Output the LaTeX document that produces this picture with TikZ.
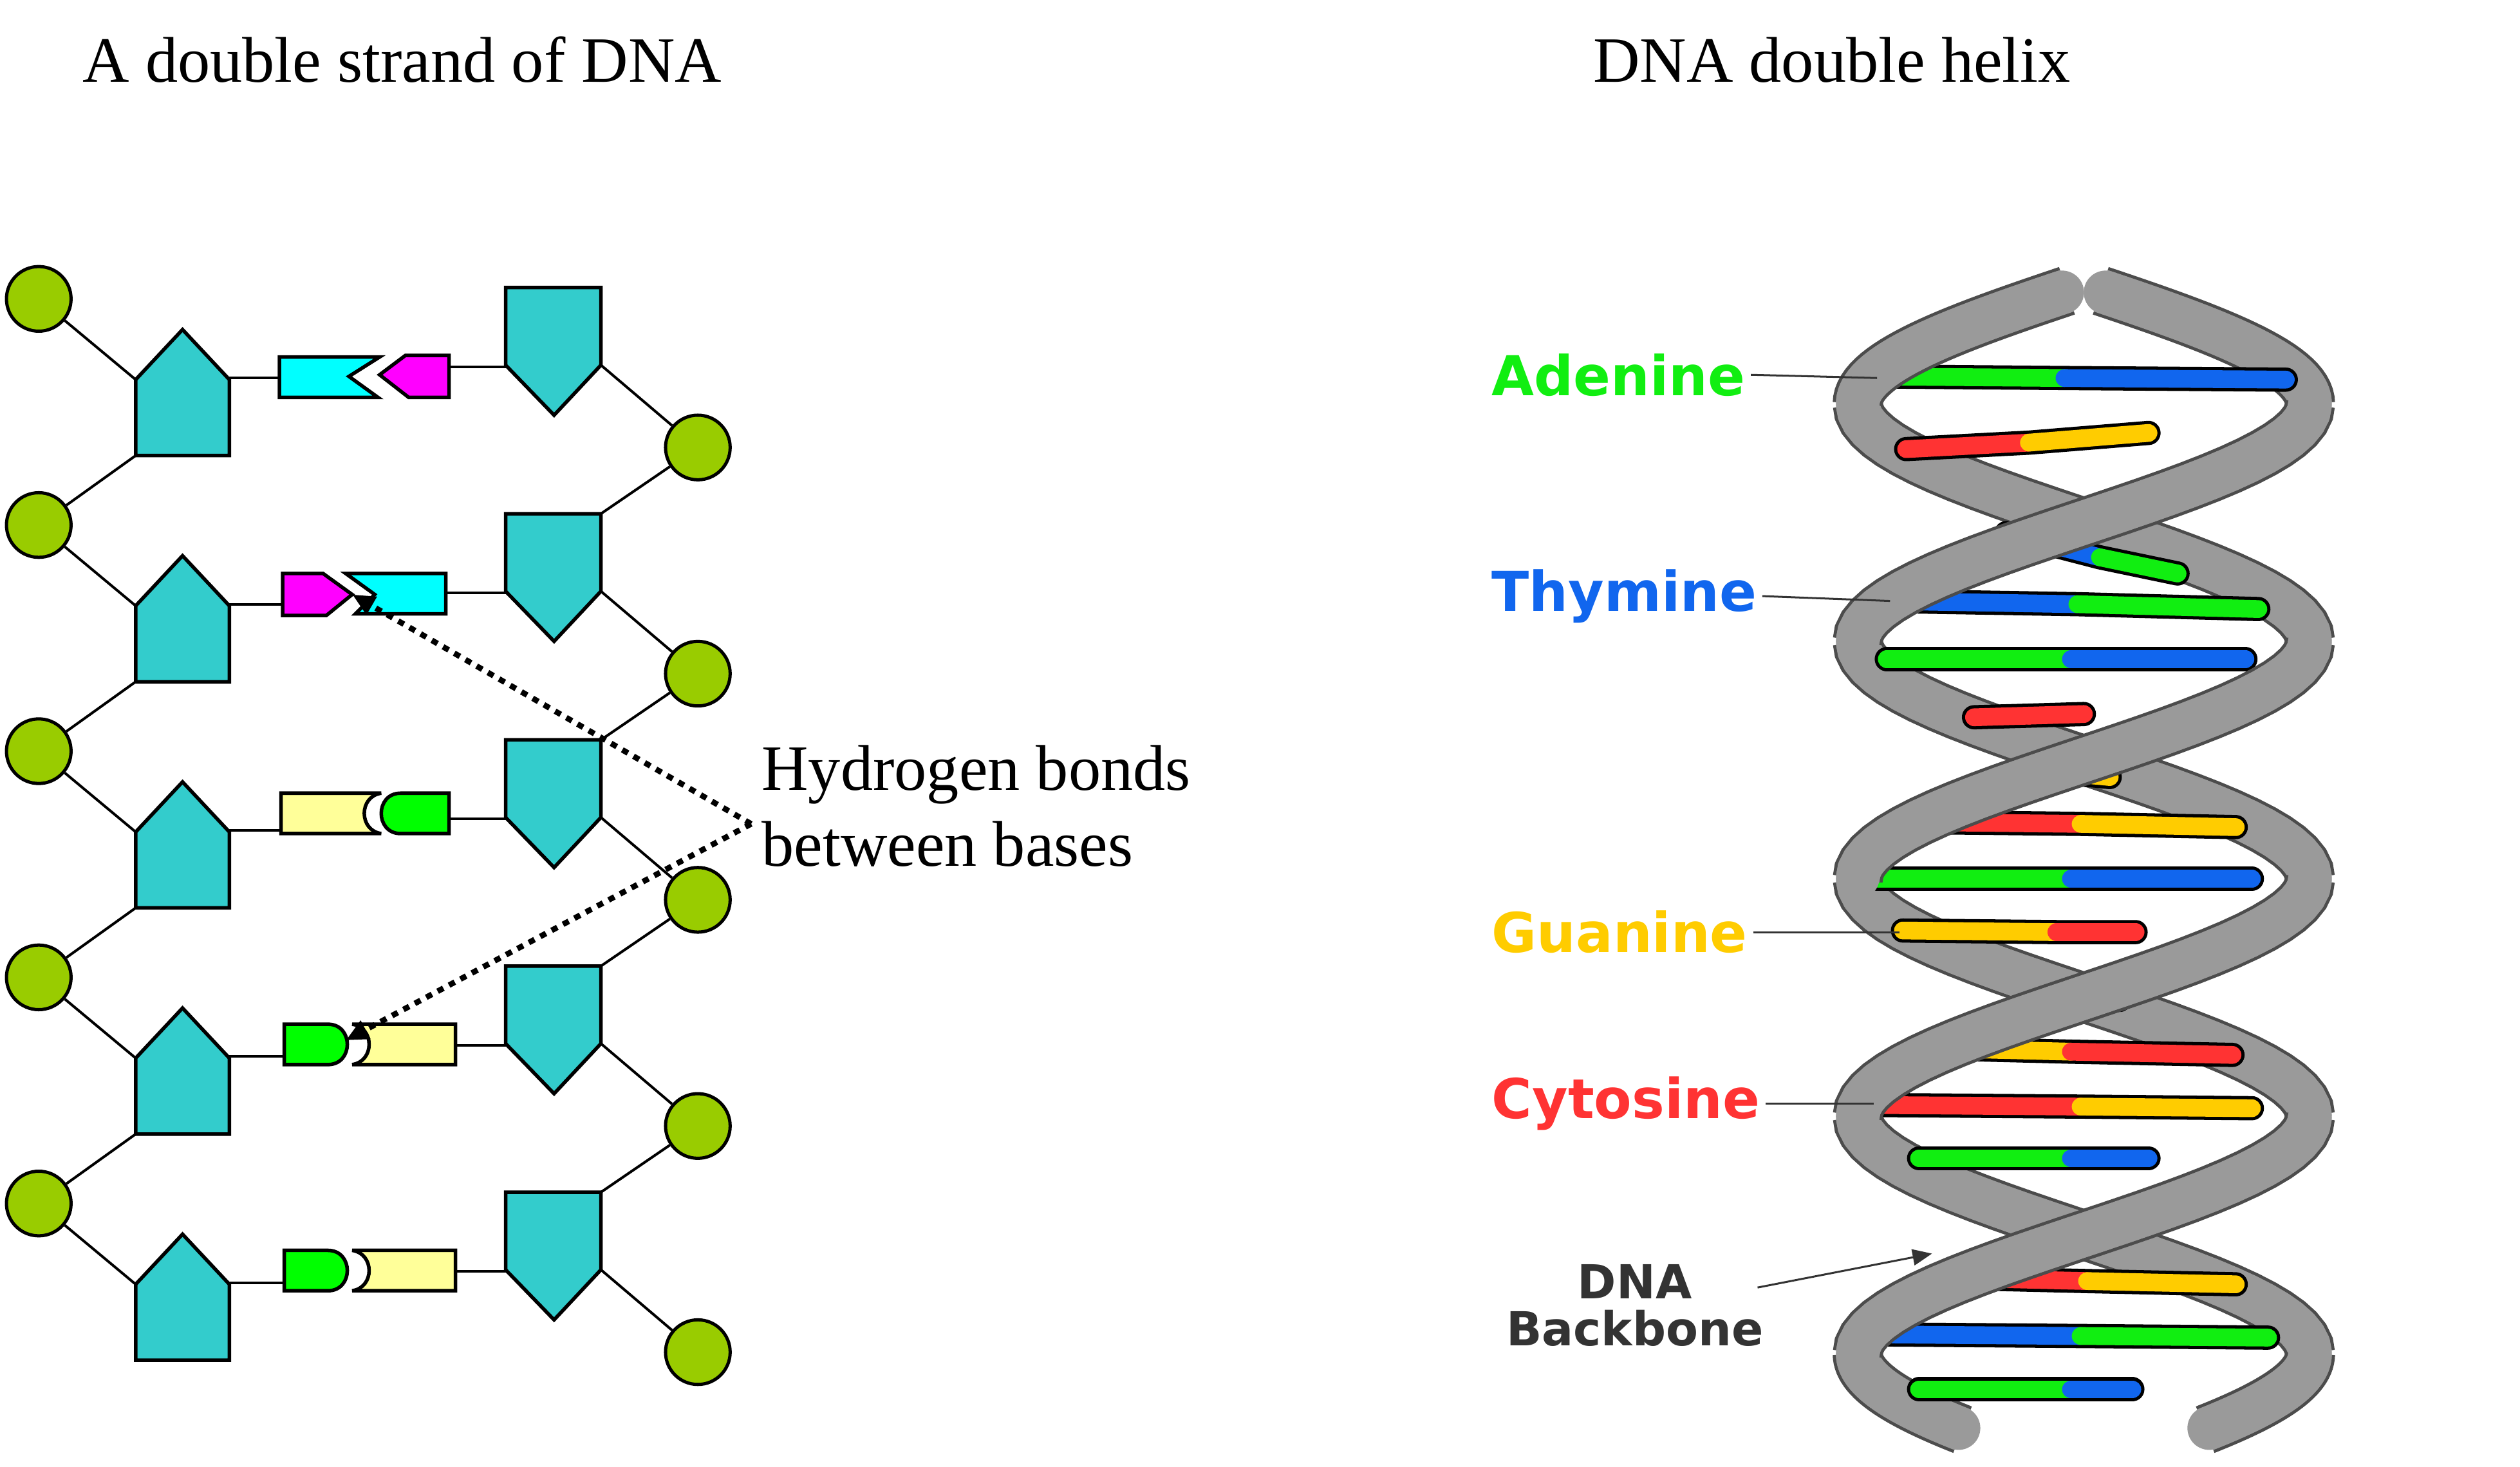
\documentclass[tikz,border=0pt]{standalone}
\usepackage{fontspec}
\setmainfont{Liberation Serif}
\newfontfamily\labelfont{DejaVu Sans}
\usepackage{tikz}
\usetikzlibrary{calc,arrows.meta}

\definecolor{sugar}{HTML}{33CCCC}
\definecolor{phos}{HTML}{99CC00}
\definecolor{cyanb}{HTML}{00FFFF}
\definecolor{magb}{HTML}{FF00FF}
\definecolor{yelb}{HTML}{FFFF99}
\definecolor{greb}{HTML}{00FF00}
\definecolor{hA}{HTML}{11EE11}
\definecolor{hT}{HTML}{1166EE}
\definecolor{hG}{HTML}{FFCC00}
\definecolor{hC}{HTML}{FF3333}
\definecolor{rib}{HTML}{9A9A9A}

\tikzset{
  part/.style={draw=black,line width=2.2pt,line join=miter},
  bond/.style={draw=black,line width=1.6pt},
  phosphate/.style={circle,draw=black,line width=2pt,fill=phos,minimum size=40pt,inner sep=0pt},
  hbond/.style={line width=3.5pt,dash pattern=on 4pt off 4pt,-{Triangle[length=14pt,width=12pt]}},
  title/.style={font=\fontsize{40}{47}\selectfont},
  blabel/.style={font=\labelfont\bfseries\fontsize{34}{30}\selectfont,anchor=west},
  pointer/.style={draw=black!80,line width=1.2pt}
}

% one backbone half-turn of the ribbon
\newcommand\ribbon[3]{%
  \draw[line width=31pt,black!70] plot[domain=#2:#3,samples=30] ({1290+#1*140*sin(1.2245*(\x-176.5))},\x);
  \draw[line width=27pt,rib,line cap=round] plot[domain=#2+1:#3-1,samples=30] ({1290+#1*140*sin(1.2245*(\x-176.5))},\x);
  \draw[line width=27pt,rib] plot[domain=#2:#3,samples=30] ({1290+#1*140*sin(1.2245*(\x-176.5))},\x);}
% one base pair of the helix
\newcommand\rung[5]{%
  \draw[line width=15pt,black,line cap=round] #1 -- #2 -- #3;
  \draw[line width=11pt,#4,line cap=round] #1 -- #2;
  \draw[line width=11pt,#5,line cap=round] #2 -- #3;}

\begin{document}
\begin{tikzpicture}[x=1pt,y=-1pt]
\useasboundingbox (0,0) rectangle (1560,908);

% Titles
\node[title] (t1) at (249,37) {A double strand of DNA};
\node[title] (t2) at (1134,37) {DNA double helix};

% Double strand
\foreach \k in {0,...,4}{
\begin{scope}[yshift=-140*\k]
\node[phosphate] (L\k) at (24,185) {};
\node[phosphate] (R\k) at (432,277) {};
\draw[part,fill=sugar] (84,235) coordinate (lu\k) -- (113,204) -- (142,235) -- (142,282) -- (84,282) coordinate (ld\k) -- cycle;
\draw[part,fill=sugar] (313,178) -- (372,178) coordinate (ru\k) -- (372,226) coordinate (rd\k) -- (343,257) -- (313,226) -- cycle;
\coordinate (sl\k) at (142,234);
\coordinate (sr\k) at (313,227);
\end{scope}
\draw[bond] (L\k) -- (lu\k);
\draw[bond] (rd\k) -- (R\k);
}
\foreach \k [evaluate=\k as \n using int(\k+1)] in {0,...,3}{
\draw[bond] (ld\k) -- (L\n);
\draw[bond] (R\k) -- (ru\n);
}

% Bases
\draw[part,fill=cyanb] (173,221) coordinate (b0) -- (235,221) -- (216,233) -- (234,246) -- (173,246) -- cycle;
\draw[part,fill=magb] (278,220) -- (251,220) -- (235,232) -- (253,246) -- (278,246) coordinate (c0) -- cycle;
\draw[part,fill=magb] (175,355) coordinate (b1) -- (200,355) -- (218,368) coordinate (h1) -- (202,381) -- (175,381) -- cycle;
\draw[part,fill=cyanb] (214,355) -- (276,355) -- (276,380) coordinate (c1) -- (220,380) -- (232,368) -- cycle;
\draw[part,fill=yelb] (174,491) coordinate (b2) -- (236,491) .. controls (222,493) and (222,514) .. (236,516) -- (174,516) -- cycle;
\draw[part,fill=greb] (278,491) -- (248,491) .. controls (232,491) and (232,516) .. (248,516) -- (278,516) coordinate (c2) -- cycle;
\foreach \k/\y in {3/634,4/774}{
\draw[part,fill=greb] (176,\y) coordinate (b\k) -- (203,\y) .. controls (219,\y) and (219,\y+25) .. (203,\y+25) -- (176,\y+25) -- cycle;
\draw[part,fill=yelb] (282,\y) -- (218,\y) .. controls (232,\y+2) and (232,\y+23) .. (218,\y+25) -- (282,\y+25) coordinate (c\k) -- cycle;
}
\coordinate (h3) at (214,644);
\foreach \k in {0,...,4}{
\draw[bond] (sl\k) -- (b\k |- sl\k);
\draw[bond] (c\k |- sr\k) -- (sr\k);
}

% Hydrogen bonds
\node[title,anchor=north west,align=left] (hb) at (468,458) {Hydrogen bonds\\between bases};
\coordinate (hs) at (465,510);
\draw[hbond] (hs) -- (h1);
\draw[hbond] (hs) -- (h3);

% Double helix: back half-turns
\foreach \ya/\yb [count=\j] in {180/250,250/397,397/544,544/691,691/838,838/885}{
\ifodd\j \ribbon{1}{\ya}{\yb} \else \ribbon{-1}{\ya}{\yb} \fi
}

% Base pairs
\rung{(1160,233)}{(1278,234)}{(1415,235)}{hA}{hT}
\rung{(1180,278)}{(1256,274)}{(1330,268)}{hC}{hG}
\rung{(1242,330)}{(1300,345)}{(1348,355)}{hT}{hA}
\rung{(1168,372)}{(1286,374)}{(1398,377)}{hT}{hA}
\rung{(1168,408)}{(1282,408)}{(1390,408)}{hA}{hT}
\rung{(1222,444)}{(1256,443)}{(1290,442)}{hC}{hC}
\rung{(1282,479)}{(1296,480)}{(1306,481)}{hG}{hG}
\rung{(1198,509)}{(1288,510)}{(1384,512)}{hC}{hG}
\rung{(1162,544)}{(1282,544)}{(1394,544)}{hA}{hT}
\rung{(1178,576)}{(1273,577)}{(1322,577)}{hG}{hC}
\rung{(1292,617)}{(1302,618)}{(1312,619)}{hA}{hA}
\rung{(1202,649)}{(1282,651)}{(1382,653)}{hG}{hC}
\rung{(1158,684)}{(1288,685)}{(1394,686)}{hC}{hG}
\rung{(1188,717)}{(1282,717)}{(1330,717)}{hA}{hT}
\rung{(1292,762)}{(1300,763)}{(1308,764)}{hT}{hT}
\rung{(1208,791)}{(1292,793)}{(1384,795)}{hC}{hG}
\rung{(1162,826)}{(1288,827)}{(1404,828)}{hT}{hA}
\rung{(1188,860)}{(1282,860)}{(1320,860)}{hA}{hT}

% Double helix: front half-turns
\foreach \ya/\yb [count=\j] in {180/250,250/397,397/544,544/691,691/838,838/885}{
\ifodd\j \ribbon{-1}{\ya}{\yb} \else \ribbon{1}{\ya}{\yb} \fi
}

% Labels
\node[blabel,text=hA] (ade) at (920,232) {Adenine};
\node[blabel,text=hT] (thy) at (920,369) {Thymine};
\node[blabel,text=hG] (gua) at (920,577) {Guanine};
\node[blabel,text=hC] (cyt) at (920,683) {Cytosine};
\node[blabel,text=black!80,align=center,anchor=center,font=\labelfont\bfseries\fontsize{29}{29}\selectfont] (bb) at (1012,808) {DNA\\Backbone};
\coordinate (pa) at (1162,234);
\coordinate (pt) at (1170,372);
\coordinate (pg) at (1176,577);
\coordinate (pc) at (1160,683);
\coordinate (pb) at (1196,776);
\coordinate (bs) at (1088,797);
\draw[pointer] (ade.east) -- (pa);
\draw[pointer] (thy.east) -- (pt);
\draw[pointer] (gua.east) -- (pg);
\draw[pointer] (cyt.east) -- (pc);
\draw[pointer,-{Triangle[length=12pt,width=10pt]}] (bs) -- (pb);
\end{tikzpicture}
\end{document}
